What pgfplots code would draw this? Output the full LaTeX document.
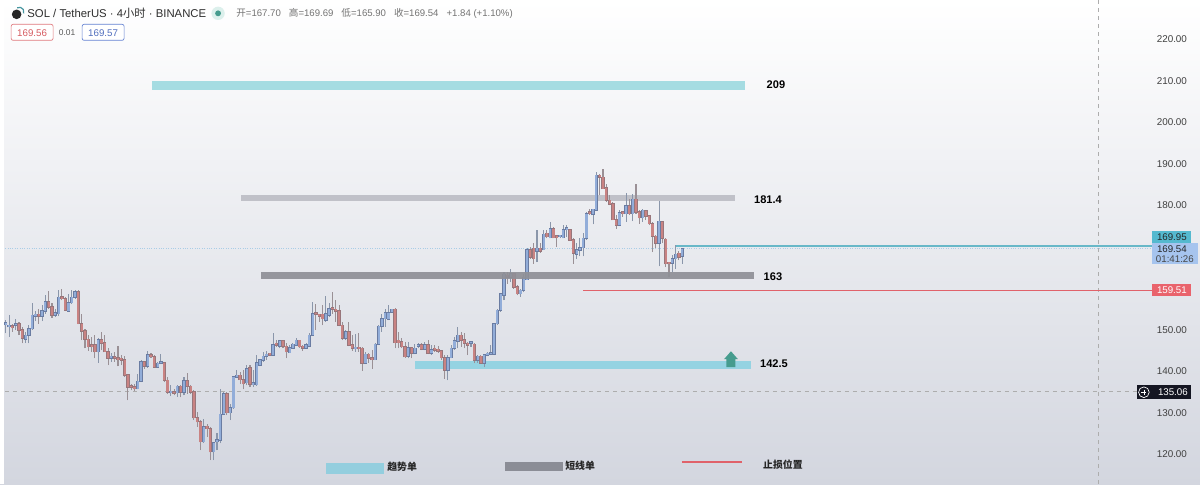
\documentclass[border=0pt]{standalone}
\usepackage{pgfplots}
\usepackage{pgfplotstable}
\usepackage{fontspec}
\pgfplotsset{compat=1.18}
\setmainfont{Liberation Sans}
\newfontfamily\cjk{Noto Sans CJK SC}
\def\Y#1{\fpeval{220-(#1-39)/4.15}}
\definecolor{upF}{HTML}{92ADD9}\definecolor{upO}{HTML}{6A7CA2}\definecolor{upW}{HTML}{8A96AA}
\definecolor{dnF}{HTML}{C98383}\definecolor{dnO}{HTML}{98767B}\definecolor{dnW}{HTML}{9A9095}
\definecolor{bgB}{HTML}{D3D6DF}
\definecolor{zoneA}{RGB}{165,220,226}\definecolor{zoneB}{RGB}{192,193,200}\definecolor{zoneC}{RGB}{149,211,226}
\definecolor{zoneD}{RGB}{143,144,151}\definecolor{lineT}{RGB}{104,184,200}\definecolor{lineR}{RGB}{224,98,106}
\definecolor{arr}{RGB}{70,156,142}\definecolor{legT}{RGB}{147,206,222}\definecolor{legG}{RGB}{139,141,150}
\definecolor{tagT}{RGB}{85,185,207}\definecolor{tagB}{RGB}{166,196,238}\definecolor{tagR}{RGB}{233,99,108}
\definecolor{tagK}{RGB}{20,22,34}\definecolor{ico}{RGB}{70,150,160}\definecolor{halo}{RGB}{220,240,236}
\definecolor{boxR}{RGB}{224,120,125}\definecolor{txtR}{RGB}{214,90,96}\definecolor{boxB}{RGB}{100,130,210}\definecolor{txtB}{RGB}{80,110,190}
\definecolor{dotL}{RGB}{170,205,230}
\pgfplotstableread{
i o h l c
0 151.2 152.3 149.1 151.5
1 150.7 153.5 148.3 151.1
3 151.1 152.7 149.9 151.5
6 147.7 149.5 146.8 148.7
7 148.7 151.1 146.7 150.3
8 150.3 156.5 149.9 153.5
9 153.3 154.5 152.1 153.5
11 153.3 155.9 152.1 154.5
12 154.5 158.3 153.9 156.7
15 153.5 154.9 153.1 154.1
16 153.9 159.7 153.3 157.8
19 154.5 158.7 154.3 156.5
20 156.5 159.5 156.3 157.8
21 157.8 159.5 157.5 159.2
28 144.7 147.9 142.0 147.6
32 143.2 144.3 142.3 143.5
40 135.8 139.4 135.6 137.6
41 137.6 142.7 137.4 142.3
43 141.2 144.9 140.9 143.9
46 141.0 142.3 140.9 141.9
47 141.9 144.1 141.7 142.0
50 134.8 136.6 134.0 135.0
52 134.8 136.6 133.8 136.4
54 135.0 138.5 134.2 137.7
60 123.0 128.6 122.8 126.6
63 120.6 123.0 118.6 122.8
64 123.0 125.0 121.0 123.4
65 123.4 135.8 122.6 129.6
66 129.6 135.0 129.6 134.6
68 130.0 132.2 128.2 131.2
69 131.2 138.6 131.0 138.6
70 138.6 140.3 138.6 139.0
73 137.2 141.5 136.6 140.6
75 136.8 140.3 136.2 137.0
76 136.8 143.9 136.5 142.0
77 141.5 142.8 141.2 142.7
78 142.7 144.7 142.3 143.6
79 143.6 144.9 142.7 144.1
81 143.9 149.1 143.9 146.4
83 146.1 147.6 145.5 147.3
86 144.5 146.3 144.4 145.7
87 145.6 146.7 145.5 146.5
88 146.3 147.9 146.1 147.5
91 145.6 146.7 145.5 146.3
92 146.1 149.1 146.0 148.7
93 148.7 156.7 148.7 153.9
97 152.3 158.1 151.9 153.9
98 153.5 156.5 153.1 155.1
103 147.9 149.9 147.5 149.5
106 145.4 148.9 144.7 145.6
109 142.0 144.7 141.9 144.1
112 142.8 146.7 142.7 146.5
113 146.5 151.1 146.3 150.8
114 150.8 153.9 149.5 152.7
115 152.7 155.1 150.7 154.1
116 152.5 155.9 152.3 154.1
117 154.3 155.1 154.3 154.9
122 143.6 147.1 143.1 145.6
124 144.3 146.5 144.1 145.5
125 146.0 146.7 145.5 146.3
127 145.3 147.1 145.1 146.3
129 144.3 146.3 143.9 145.2
134 140.3 143.9 137.8 143.3
135 143.3 146.3 143.1 145.5
136 145.5 148.3 145.2 147.3
137 147.3 150.7 145.5 148.7
141 146.7 147.3 145.9 146.9
143 142.7 143.9 142.0 143.6
145 142.0 144.1 141.0 143.9
146 143.9 144.7 143.6 144.1
147 144.1 146.3 143.9 144.4
148 144.1 151.5 143.9 151.5
149 151.5 154.9 151.1 154.7
150 154.7 158.7 154.3 158.6
151 158.3 163.9 157.1 163.4
153 162.7 164.7 161.5 163.5
156 158.7 159.9 157.9 159.5
157 159.5 163.5 159.0 162.6
158 162.1 169.8 162.0 169.2
161 168.9 174.0 166.3 169.6
163 169.3 174.0 169.2 173.0
165 172.2 176.0 172.0 174.4
168 172.4 172.8 172.0 172.5
169 172.2 175.2 172.0 174.1
170 174.1 175.2 172.4 174.4
173 168.2 170.8 167.1 169.2
174 169.2 172.0 167.7 169.8
175 169.8 173.2 167.7 172.0
176 172.0 178.4 171.7 178.0
178 177.8 179.2 175.4 179.0
179 178.8 188.0 178.8 187.2
186 175.2 178.8 175.0 178.2
188 178.0 183.0 176.0 179.8
190 178.0 182.8 176.2 181.4
193 177.0 179.2 176.0 178.8
198 170.8 181.0 165.3 176.1
202 166.1 168.0 163.9 167.1
203 167.1 170.4 164.7 168.2
205 167.70 169.69 165.90 169.54
}\upt
\pgfplotstableread{
i o h l c
2 150.9 151.5 149.5 150.5
4 151.5 151.9 148.7 149.9
5 150.0 150.7 146.7 147.9
10 153.5 154.9 151.5 153.3
13 156.7 159.4 155.1 155.5
14 155.5 156.5 152.9 153.5
17 157.8 159.9 157.1 157.5
18 157.4 157.9 154.5 154.7
22 159.2 159.5 151.3 151.5
23 151.5 153.9 147.5 149.7
24 149.7 150.3 145.5 147.7
25 147.7 148.7 144.9 145.9
26 146.3 148.3 144.7 145.9
27 146.3 148.7 143.1 144.7
29 147.6 149.5 145.1 146.8
30 146.8 148.7 144.7 144.7
31 144.7 145.5 141.5 143.2
33 143.3 144.7 142.3 143.1
34 143.1 146.1 141.2 142.8
35 143.0 143.9 141.5 142.7
36 142.7 143.6 138.6 139.0
37 139.2 139.4 133.0 136.2
38 136.4 137.0 135.4 136.1
39 136.1 137.0 135.3 135.8
42 142.3 142.5 140.6 141.2
44 143.9 144.4 143.3 143.5
45 143.5 143.9 140.9 141.0
48 142.0 142.3 137.4 137.8
49 137.8 138.6 134.6 134.9
51 135.0 135.8 134.2 134.7
53 136.4 136.6 133.7 135.0
55 137.7 139.6 134.6 136.4
56 136.4 136.6 134.6 135.0
57 135.0 135.4 128.2 128.8
58 128.8 130.2 126.6 127.8
59 127.8 128.2 121.0 123.0
61 126.7 127.2 124.2 126.2
62 126.2 126.6 118.6 120.6
67 134.6 135.0 129.4 130.0
71 139.0 139.8 137.0 138.0
72 138.0 140.3 135.6 137.0
74 140.9 141.5 136.2 136.9
80 144.1 144.3 143.9 143.9
82 146.4 147.5 145.9 146.3
84 147.3 147.6 145.5 146.0
85 146.0 146.7 143.1 144.7
89 147.5 147.6 145.7 145.9
90 145.9 146.3 144.9 145.6
94 153.9 156.3 149.9 153.7
95 153.7 153.9 151.9 153.3
96 153.7 155.9 151.1 152.7
99 155.1 159.1 153.9 154.9
100 154.9 157.1 151.9 154.5
101 154.5 155.9 150.8 151.1
102 151.1 151.9 147.5 147.9
104 149.5 151.9 146.0 146.3
105 146.3 148.7 144.9 145.5
107 145.7 149.1 144.7 145.4
108 145.5 145.9 140.1 142.0
110 144.1 144.4 142.0 143.2
111 143.1 145.1 140.6 142.8
118 154.9 155.3 145.5 146.9
119 147.5 149.5 145.5 146.9
120 147.1 148.1 145.5 145.9
121 145.9 147.1 143.3 143.5
123 145.6 145.9 143.1 144.3
126 146.3 146.7 145.1 145.3
128 146.3 147.5 144.1 144.3
130 145.2 146.3 144.7 145.1
131 145.1 146.0 144.5 144.9
132 144.9 145.1 142.7 143.3
133 143.3 143.9 138.2 140.3
138 148.7 149.5 145.9 147.5
139 147.6 149.1 145.5 146.7
140 146.7 147.1 143.9 146.3
142 146.5 146.7 141.9 142.7
144 143.6 143.9 141.9 142.0
152 163.1 163.9 161.1 162.7
154 163.5 163.7 159.9 160.3
155 160.3 160.7 158.3 158.7
159 169.2 170.0 167.1 167.5
160 169.6 170.8 165.9 167.1
162 169.6 170.8 168.5 169.0
164 173.2 174.0 172.0 172.4
166 174.4 174.8 172.0 172.2
167 172.4 172.5 170.0 172.2
171 174.1 174.4 171.6 171.6
172 171.7 172.0 165.9 168.4
177 178.4 179.0 177.6 178.0
180 187.2 187.6 182.4 186.8
181 186.7 188.8 184.0 184.0
182 184.2 185.2 180.8 181.2
183 181.2 182.4 180.0 180.2
184 180.4 180.8 176.4 176.5
185 176.5 177.6 174.4 175.2
187 178.2 178.4 177.2 178.0
189 179.8 181.6 177.6 178.0
191 181.4 185.1 178.0 178.4
192 178.4 178.8 175.6 177.0
194 178.6 178.8 176.4 177.4
195 177.4 177.6 175.2 175.6
196 175.6 176.0 168.7 172.5
197 172.5 172.8 169.6 170.8
199 176.0 176.1 170.8 172.0
200 171.8 172.0 165.1 165.9
201 166.2 166.3 162.6 165.9
204 168.4 169.0 166.7 167.5
}\dnt
\newcommand\candles[4]{%
 \addplot[draw=none,mark=none,forget plot,error bars/.cd,y dir=plus,y explicit,error mark=none,
   error bar style={draw=#2,solid,line width=0.8pt}]
   table[x expr={5.7+3.3*\thisrow{i}},y=l,y error plus expr={\thisrow{h}-\thisrow{l}}]{#1};
 \addplot[draw=none,mark=none,forget plot,error bars/.cd,y dir=plus,y explicit,error mark=none,
   error bar style={draw=#3,solid,line width=2.5pt}]
   table[x expr={5.7+3.3*\thisrow{i}},y expr={min(\thisrow{o},\thisrow{c})-0.15},y error plus expr={max(abs(\thisrow{c}-\thisrow{o}),0.4)+0.3}]{#1};
 \addplot[draw=none,mark=none,forget plot,error bars/.cd,y dir=plus,y explicit,error mark=none,
   error bar style={draw=#4,solid,line width=1.6pt}]
   table[x expr={5.7+3.3*\thisrow{i}},y expr={min(\thisrow{o},\thisrow{c})},y error plus expr={max(abs(\thisrow{c}-\thisrow{o}),0.4)}]{#1};
}
\begin{document}
\begin{tikzpicture}
\begin{axis}[
  scale only axis,width=900pt,height=363pt,
  xmin=0,xmax=1200,ymin=112.77,ymax=229.40,
  axis line style={draw=none},
  axis background/.style={top color=white,bottom color=bgB},
  xtick=\empty,
  ytick={120,130,140,150,180,190,200,210,220},
  yticklabel pos=right,
  major tick length=0pt,
  yticklabel style={font=\fontsize{7.4}{8}\selectfont,text=black!75,anchor=center,xshift=-21pt,
     /pgf/number format/.cd,fixed,fixed zerofill,precision=2,1000 sep={},assume math mode=true},
  clip=false,
]
% left strip
\fill[white] (axis cs:0,229.4) rectangle (axis cs:4,112.77);
% guide lines
\addplot[forget plot,draw=black!32,dash pattern=on 3pt off 3pt,line width=0.5pt] coordinates {(1098,229.4)(1098,112.77)};
\addplot[forget plot,draw=black!32,dash pattern=on 3pt off 3pt,line width=0.5pt] coordinates {(5,135.06)(1137,135.06)};
\addplot[forget plot,draw=dotL,dash pattern=on 0.6pt off 1.2pt,line width=0.4pt] coordinates {(5,169.54)(1152,169.54)};
% zones
\addplot[forget plot,draw=zoneA,line width=6.75pt] coordinates {(152,208.8)(745,208.8)};
\addplot[forget plot,draw=zoneB,line width=4.5pt] coordinates {(241,181.7)(735,181.7)};
\addplot[forget plot,draw=zoneC,line width=6pt] coordinates {(415,141.4)(751,141.4)};
\candles{\upt}{upW}{upO}{upF}
\candles{\dnt}{dnW}{dnO}{dnF}
\addplot[forget plot,draw=zoneD,line width=5.2pt,opacity=0.92] coordinates {(261,163)(754,163)};
\addplot[forget plot,draw=lineT,line width=0.95pt] coordinates {(676,170.2)(1152,170.2)};
\addplot[forget plot,draw=lineR,line width=1.1pt] coordinates {(583,159.51)(1152,159.51)};
% arrow
\fill[arr] (axis cs:731,\Y{351}) -- (axis cs:738,\Y{359}) -- (axis cs:735.5,\Y{359}) -- (axis cs:735.5,\Y{367}) -- (axis cs:726.5,\Y{367}) -- (axis cs:726.5,\Y{359}) -- (axis cs:724,\Y{359}) -- cycle;
% zone labels
\tikzset{zl/.style={font=\bfseries\fontsize{8.3}{10}\selectfont,anchor=center,inner sep=0pt}}
\node[zl] at (axis cs:776,\Y{84}) {209};
\node[zl] at (axis cs:768,\Y{199}) {181.4};
\node[zl] at (axis cs:773,\Y{276.5}) {163};
\node[zl] at (axis cs:774,\Y{363}) {142.5};
% legend
\fill[legT] (axis cs:326,\Y{463}) rectangle (axis cs:384,\Y{473.5});
\node[inner sep=0pt,anchor=west,text=black!85,font=\cjk\bfseries\fontsize{7.4}{8}\selectfont] at (axis cs:387,\Y{467}) {趋势单};
\fill[legG] (axis cs:505,\Y{462}) rectangle (axis cs:563,\Y{471});
\node[inner sep=0pt,anchor=west,text=black!85,font=\cjk\bfseries\fontsize{7.4}{8}\selectfont] at (axis cs:565,\Y{466}) {短线单};
\addplot[forget plot,draw=lineR,line width=1.1pt] coordinates {(682,118.07)(742,118.07)};
\node[inner sep=0pt,anchor=west,text=black!85,font=\cjk\bfseries\fontsize{7.4}{8}\selectfont] at (axis cs:763,\Y{464}) {止损位置};
% right tags
\tikzset{tg/.style={font=\fontsize{7.3}{8}\selectfont,inner sep=0pt,anchor=center}}
\fill[tagT] (axis cs:1152,\Y{231}) rectangle (axis cs:1191,\Y{243});
\node[tg,text=black!85] at (axis cs:1172,\Y{237}) {169.95};
\fill[tagB] (axis cs:1152,\Y{243}) rectangle (axis cs:1198,\Y{264});
\node[tg,text=black!85] at (axis cs:1172,\Y{249}) {169.54};
\node[tg,text=black!72] at (axis cs:1175,\Y{258.5}) {01:41:26};
\fill[tagR] (axis cs:1152,\Y{284}) rectangle (axis cs:1191,\Y{296});
\node[tg,text=white] at (axis cs:1172,\Y{290}) {159.51};
\fill[tagK] (axis cs:1137,\Y{385}) rectangle (axis cs:1191,\Y{399});
\node[tg,text=white] at (axis cs:1173,\Y{392}) {135.06};
\draw[white,line width=0.5pt] (axis cs:1144,\Y{392}) circle (4pt);
\draw[white,line width=0.5pt] (axis cs:1141.5,\Y{392}) -- (axis cs:1146.5,\Y{392}) (axis cs:1144,\Y{389.5}) -- (axis cs:1144,\Y{394.5});
% header
\fill[black!85] (axis cs:16.5,\Y{14}) circle (3.6pt);
\draw[ico,line width=0.9pt] (axis cs:17,\Y{7.5}) arc (120:-20:3.4pt);
\node[inner sep=0pt,anchor=west,font=\fontsize{8.5}{10}\selectfont,text=black!82] at (axis cs:27,\Y{13}) {SOL / TetherUS · 4{\cjk 小时} · BINANCE};
\fill[halo] (axis cs:218,\Y{13}) circle (5pt);
\fill[arr] (axis cs:218,\Y{13}) circle (2.2pt);
\node[inner sep=0pt,anchor=west,font=\fontsize{7.2}{8}\selectfont,text=black!55] at (axis cs:236,\Y{13}) {{\cjk 开}=167.70\hspace{6pt}{\cjk 高}=169.69\hspace{6pt}{\cjk 低}=165.90\hspace{6pt}{\cjk 收}=169.54\hspace{6pt}+1.84 (+1.10\%)};
\draw[draw=boxR,line width=0.5pt,rounded corners=1.5pt,fill=white] (axis cs:11,\Y{24}) rectangle (axis cs:53,\Y{40});
\node[tg,text=txtR] at (axis cs:32,\Y{32.5}) {169.56};
\node[tg,text=black!65,font=\fontsize{6.3}{7}\selectfont] at (axis cs:67,\Y{32.5}) {0.01};
\draw[draw=boxB,line width=0.5pt,rounded corners=1.5pt,fill=white] (axis cs:82,\Y{24}) rectangle (axis cs:124,\Y{40});
\node[tg,text=txtB] at (axis cs:103,\Y{32.5}) {169.57};
\end{axis}
\end{tikzpicture}
\end{document}
